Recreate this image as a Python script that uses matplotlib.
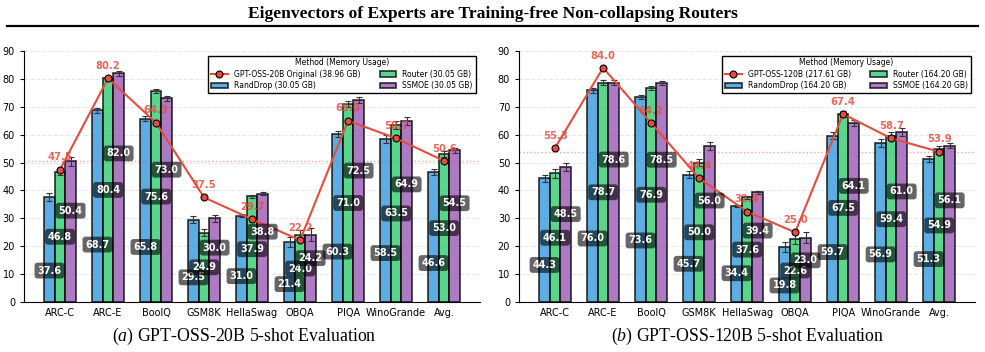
import matplotlib
matplotlib.use("Agg")
import numpy as np
import matplotlib.pyplot as plt
from matplotlib.lines import Line2D

plt.rcParams['font.family'] = 'DejaVu Sans'
plt.rcParams['mathtext.fontset'] = 'custom'
plt.rcParams['mathtext.it'] = 'Liberation Serif:italic'
plt.rcParams['mathtext.rm'] = 'Liberation Serif'

categories = ['ARC-C', 'ARC-E', 'BoolQ', 'GSM8K', 'HellaSwag', 'OBQA', 'PIQA', 'WinoGrande', 'Avg.']

# (a) GPT-OSS-20B
orig_20b = [47.5, 80.2, 64.3, 37.5, 29.7, 22.2, 65.0, 58.7, 50.6]
rand_20b = [37.6, 68.7, 65.8, 29.5, 31.0, 21.4, 60.3, 58.5, 46.6]
router_20b = [46.8, 80.4, 75.6, 24.9, 37.9, 24.0, 71.0, 63.5, 53.0]
ssmoe_20b = [50.4, 82.0, 73.0, 30.0, 38.8, 24.2, 72.5, 64.9, 54.5]
rand_20b_err = [1.4, 0.9, 0.8, 1.2, 0.5, 1.8, 1.1, 1.4, 1.0]
router_20b_err = [1.4, 0.8, 0.8, 1.2, 0.5, 2.0, 1.1, 1.4, 1.0]
ssmoe_20b_err = [1.5, 0.8, 0.8, 1.3, 0.5, 2.2, 1.0, 1.3, 0.9]

# (b) GPT-OSS-120B
orig_120b = [55.3, 84.0, 64.2, 44.4, 32.4, 25.0, 67.4, 58.7, 53.9]
rand_120b = [44.3, 76.0, 73.6, 45.7, 34.4, 19.8, 59.7, 56.9, 51.3]
router_120b = [46.1, 78.7, 76.9, 50.0, 37.6, 22.6, 67.5, 59.4, 54.9]
ssmoe_120b = [48.5, 78.6, 78.5, 56.0, 39.4, 23.0, 64.1, 61.0, 56.1]
rand_120b_err = [1.4, 0.9, 0.8, 1.3, 0.5, 1.8, 1.1, 1.4, 1.0]
router_120b_err = [1.5, 0.9, 0.7, 1.4, 0.5, 1.9, 1.1, 1.4, 0.9]
ssmoe_120b_err = [1.5, 0.9, 0.7, 1.4, 0.5, 2.0, 1.1, 1.4, 0.9]

BLUE, GREEN, PURPLE, RED = '#3498db', '#2ecc71', '#9b59b6', '#e74c3c'


def draw(ax, orig, bars, errs, names):
    x = np.arange(len(categories))
    w = 0.22
    colors = [BLUE, GREEN, PURPLE]
    frac = [0.3, 0.5, 0.65]
    handles = []
    for i, (vals, err, col, name) in enumerate(zip(bars, errs, colors, names[1:])):
        xs = x + (i - 1) * w
        b = ax.bar(xs, vals, w, yerr=err, color=col, alpha=0.8, edgecolor='black',
                   linewidth=1.2, label=name, zorder=2,
                   error_kw=dict(ecolor='#333333', capsize=2, elinewidth=0.8, capthick=0.8))
        handles.append(b)
        for xx, v in zip(xs, vals):
            ax.text(xx, v * frac[i], f'{v:.1f}', ha='center', va='center', color='white',
                    fontsize=7, fontweight='bold', zorder=5,
                    bbox=dict(boxstyle='round,pad=0.3', fc='black', ec='none', alpha=0.6))
    ln, = ax.plot(x, orig, '-o', color=RED, lw=1.5, ms=5, mfc=RED, mec='black', mew=0.8,
                  label=names[0], zorder=4)
    for xx, v in zip(x, orig):
        ax.text(xx, v + 4.4, f'{v:.1f}', ha='center', va='center', color=RED, alpha=0.85,
                fontsize=7.2, fontweight='bold', zorder=6)
    ax.axhline(orig[-1], color=RED, ls=':', lw=1, alpha=0.5, zorder=1)
    ax.set_xlim(-0.75, len(categories) - 0.25)
    ax.set_ylim(0, 90)
    ax.set_yticks(range(0, 91, 10))
    ax.set_xticks(x)
    ax.set_xticklabels(categories)
    ax.tick_params(axis='x', length=0, labelsize=7, pad=4)
    ax.tick_params(axis='y', length=3, labelsize=7)
    ax.grid(axis='y', ls='--', lw=0.8, alpha=0.3, zorder=0)
    ax.set_axisbelow(True)
    for s in ['top', 'right']:
        ax.spines[s].set_visible(False)
    leg = ax.legend([ln, handles[0], handles[1], handles[2]],
                    [names[0], names[1], names[2], names[3]],
                    title='Method (Memory Usage)', ncol=2, loc='upper right',
                    fontsize=5.5, title_fontsize=5.5, framealpha=1, fancybox=False,
                    edgecolor='black', borderpad=0.35, labelspacing=0.3,
                    handlelength=2.2, handletextpad=0.8, columnspacing=2.5,
                    borderaxespad=0.6)
    leg.get_frame().set_linewidth(1)


fig = plt.figure(figsize=(9.85, 3.52), dpi=100)
ax1 = fig.add_axes([0.0244, 0.142, 0.463, 0.713])
ax2 = fig.add_axes([0.527, 0.142, 0.463, 0.713])

draw(ax1, orig_20b, [rand_20b, router_20b, ssmoe_20b],
     [rand_20b_err, router_20b_err, ssmoe_20b_err],
     ['GPT-OSS-20B Original (38.96 GB)', 'RandDrop (30.05 GB)', 'Router (30.05 GB)', 'SSMOE (30.05 GB)'])
draw(ax2, orig_120b, [rand_120b, router_120b, ssmoe_120b],
     [rand_120b_err, router_120b_err, ssmoe_120b_err],
     ['GPT-OSS-120B (217.61 GB)', 'RandomDrop (164.20 GB)', 'Router (164.20 GB)', 'SSMOE (164.20 GB)'])

fig.text(0.5, 0.96, 'Eigenvectors of Experts are Training-free Non-collapsing Routers',
         ha='center', va='center', fontsize=12.6, fontweight='bold', family='Liberation Serif')
fig.add_artist(Line2D([0.007, 0.993], [0.926, 0.926], color='black', lw=1.6))

fig.text(0.248, 0.044, r'$\mathit{(a)}$ GPT-OSS-20B 5-shot Evaluation', ha='center', va='center',
         fontsize=12.8, family='Liberation Serif')
fig.text(0.759, 0.044, r'$\mathit{(b)}$ GPT-OSS-120B 5-shot Evaluation', ha='center', va='center',
         fontsize=12.8, family='Liberation Serif')

fig.savefig('out.png', dpi=100)
